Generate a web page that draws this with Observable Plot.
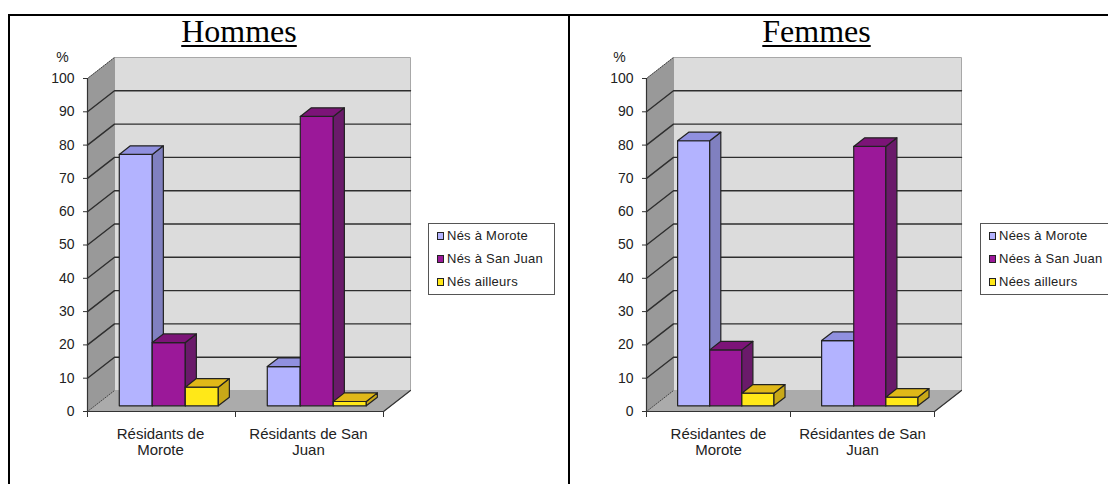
<!DOCTYPE html>
<html><head><meta charset="utf-8">
<script src="https://cdn.jsdelivr.net/npm/d3@7"></script>
<script src="https://cdn.jsdelivr.net/npm/@observablehq/plot@0.6"></script>
<style>
html,body{margin:0;padding:0;background:#fff;}
#page{position:relative;width:1108px;height:484px;overflow:hidden;background:#fff;}
.frame{position:absolute;background:#000;}
.title{position:absolute;top:12px;font:32px/38px "Liberation Serif",serif;text-decoration:underline;text-decoration-thickness:2px;text-underline-offset:3px;color:#000;transform:translateX(-50%);white-space:nowrap;}
.legend{position:absolute;top:223px;height:70px;background:#fff;border:1px solid #555;font:13px/23px "Liberation Sans",sans-serif;color:#222;box-sizing:content-box;}
.legend div{position:absolute;left:18px;white-space:nowrap;letter-spacing:.25px;}
.legend i{position:absolute;left:8px;width:5px;height:6px;border:1px solid #222;}
.panel{position:absolute;top:0;}
</style></head><body>
<div id="page"></div>
<script>
const valueTicks = d3.range(0, 101, 10);
const seriesColors = [
  {front:"#b3b3ff", side:"#8080c0", top:"#9090df"},
  {front:"#9b1899", side:"#6a1a6a", top:"#7c1478"},
  {front:"#ffe818", side:"#c8a818", top:"#e0b818"}
];
const menCategories = ["Résidants de\nMorote", "Résidants de San\nJuan"];
const menSeries = ["Nés à Morote", "Nés à San Juan", "Nés ailleurs"];
const menMorote = [75.5, 19, 5.6];
const menSanJuan = [11.8, 86.9, 1.3];
const womenCategories = ["Résidantes de\nMorote", "Résidantes de San\nJuan"];
const womenSeries = ["Nées à Morote", "Nées à San Juan", "Nées ailleurs"];
const womenMorote = [79.6, 16.8, 3.8];
const womenSanJuan = [19.6, 77.9, 2.6];

const FONT = '"Liberation Sans", sans-serif';
const page = document.getElementById("page");

function chart({left, width, x0, x1, categories, groups, labelDx, pctDx}) {
  const unit = (x1 - x0) / 2;
  const DX = 27 / unit, DY = 21 / 3.33;
  const P = (u, v, d) => ({x: u + d * DX, y: v + d * DY});
  let id = 0;
  const poly = (pts, fill, stroke) => {
    const z = id++;
    return [...pts, pts[0]].map(p => ({...p, z, fill, stroke}));
  };
  const walls = [
    ...poly([P(0,0,1),P(2,0,1),P(2,100,1),P(0,100,1)], "#dcdcdc", "#a8a8a8"),
    ...poly([P(0,0,0),P(0,0,1),P(0,100,1),P(0,100,0)], "#999999", "#999999"),
    ...poly([P(0,0,0),P(2,0,0),P(2,0,1),P(0,0,1)], "#ababab", "#ababab")
  ];
  const grid = valueTicks.slice(1, -1).flatMap(v =>
    [P(0,v,0),P(0,v,1),P(2,v,1)].map(p => ({...p, z:v})));
  const dots = [0,100].flatMap(v => [P(0,v,0),P(0,v,1)].map(p => ({...p, z:v})));
  const floorEdge = [P(0,0,0),P(2,0,0),P(2,0,1)];
  const gap = 0.1655, bw = 0.223, d0 = 0.27, d1 = 0.68;
  const bars = groups.flatMap((vals, i) => vals.flatMap((v, j) => {
    const c = seriesColors[j], a = i + gap + j * bw, b = a + bw;
    return [
      ...poly([P(a,0,d0),P(b,0,d0),P(b,v,d0),P(a,v,d0)], c.front, "#222"),
      ...poly([P(b,0,d0),P(b,0,d1),P(b,v,d1),P(b,v,d0)], c.side, "#222"),
      ...poly([P(a,v,d0),P(b,v,d0),P(b,v,d1),P(a,v,d1)], c.top, "#222")
    ];
  }));
  const polyOpts = {x:"x", y:"y", z:"z", fill:"fill", stroke:"stroke", curve:"linear"};
  return Plot.plot({
    width, height:484,
    marginLeft:x0 - left, marginRight:width - (x1 - left), marginTop:78, marginBottom:73,
    x:{domain:[0,2], axis:null},
    y:{domain:[0,100], axis:null},
    color:{type:"identity"},
    style:{fontFamily:FONT, fontSize:"14px", color:"#222", background:"transparent"},
    marks:[
      Plot.line(walls, {...polyOpts, strokeWidth:1}),
      Plot.line(grid, {x:"x", y:"y", z:"z", stroke:"#2e2e2e", strokeWidth:1.4}),
      Plot.line(dots, {x:"x", y:"y", z:"z", stroke:"#444", strokeWidth:1, strokeDasharray:"1 1.5"}),
      Plot.line(floorEdge, {x:"x", y:"y", stroke:"#333", strokeWidth:1.2}),
      Plot.line(bars, {...polyOpts, strokeWidth:1.2}),
      Plot.ruleX([0], {y1:0, y2:100, stroke:"#333", strokeWidth:1.2}),
      Plot.axisY({anchor:"left", ticks:valueTicks, tickSize:4, tickPadding:9, stroke:"#333", fontSize:14, fill:"#222", label:null}),
      Plot.axisX({anchor:"bottom", ticks:[0,1,2], tickSize:6, tickFormat:() => "", stroke:"#333", label:null}),
      Plot.text(categories, {x:(d,i) => i + 0.5, y:0, text:d => d, dx:labelDx, dy:15, lineAnchor:"top", lineHeight:1.13, fontSize:15, fill:"#222"}),
      Plot.text(["%"], {x:0, y:100, dx:pctDx, dy:-21, fontSize:14, fill:"#222"})
    ]
  });
}

function place(svg, left) {
  const wrap = document.createElement("div");
  wrap.className = "panel";
  wrap.style.left = left + "px";
  wrap.appendChild(svg);
  page.appendChild(wrap);
}
function title(text, cx) {
  const t = document.createElement("div");
  t.className = "title"; t.textContent = text; t.style.left = cx + "px";
  page.appendChild(t);
}
function legend(names, left, width) {
  const box = document.createElement("div");
  box.className = "legend";
  box.style.left = left + "px"; box.style.width = width + "px";
  names.forEach((n, i) => {
    const row = document.createElement("div");
    row.textContent = n; row.style.top = (i * 23 + 0) + "px";
    const sw = document.createElement("i");
    sw.style.background = seriesColors[i].front; sw.style.top = (i * 23 + 8) + "px";
    box.appendChild(sw); box.appendChild(row);
  });
  page.appendChild(box);
}

place(chart({left:0, width:569, x0:87, x1:383, categories:menCategories, groups:[menMorote, menSanJuan], labelDx:-1, pctDx:-25}), 0);
place(chart({left:569, width:539, x0:646, x1:934, categories:womenCategories, groups:[womenMorote, womenSanJuan], labelDx:0, pctDx:-27}), 569);
title("Hommes", 239);
title("Femmes", 816.5);
legend(menSeries, 428, 125);
legend(womenSeries, 980, 140);
[[9,14,1099,2],[8,14,2,470],[568,14,2,470]].forEach(([l,t,w,h]) => {
  const f = document.createElement("div");
  f.className = "frame";
  Object.assign(f.style, {left:l+"px", top:t+"px", width:w+"px", height:h+"px"});
  page.appendChild(f);
});
</script>
</body></html>
